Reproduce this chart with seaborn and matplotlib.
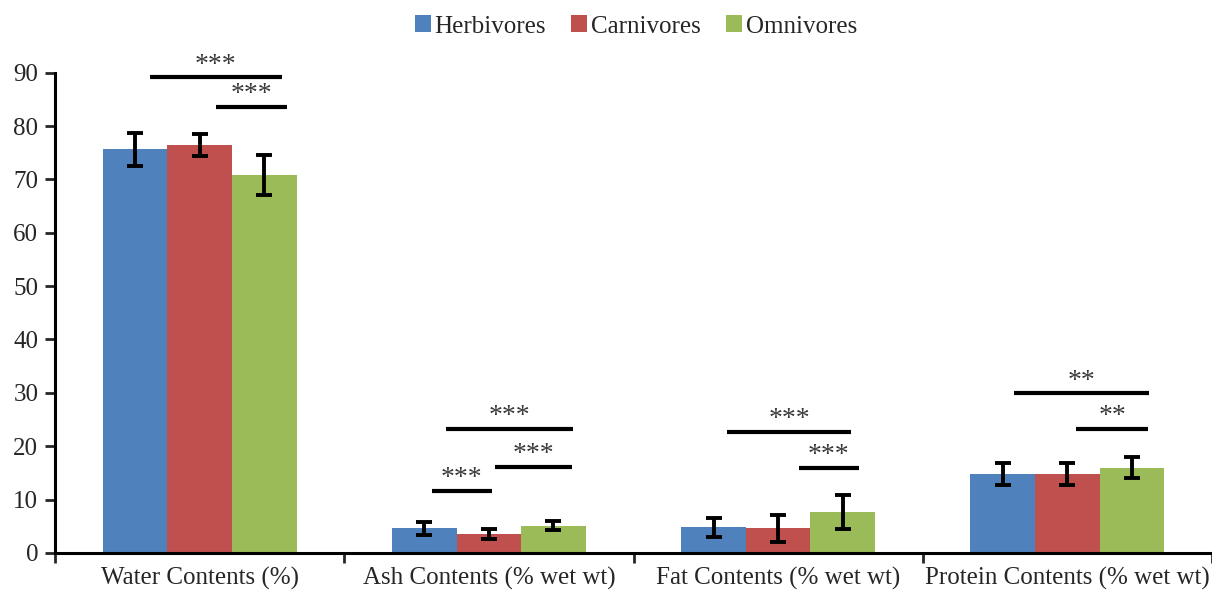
import matplotlib
matplotlib.use("Agg")
import matplotlib.pyplot as plt
import seaborn as sns
import pandas as pd
import numpy as np

categories = ["Water Contents (%)", "Ash Contents (% wet wt)", "Fat Contents (% wet wt)", "Protein Contents (% wet wt)"]
groups = ["Herbivores", "Carnivores", "Omnivores"]
herbivores = [75.6, 4.6, 4.8, 14.8]
carnivores = [76.4, 3.5, 4.6, 14.8]
omnivores = [70.8, 5.1, 7.7, 16.0]
herb_err = [3.0, 1.2, 1.8, 2.0]
carn_err = [2.1, 0.9, 2.5, 2.0]
omni_err = [3.7, 0.8, 3.2, 2.0]
colors = ["#4F81BD", "#C0504D", "#9BBB59"]

# significance brackets: (category index, start offset, end offset, height, label)
sig_cat = [0, 0, 1, 1, 1, 2, 2, 3, 3]
sig_x0 = [-0.172, 0.055, -0.148, 0.02, -0.197, -0.176, 0.072, -0.186, 0.031]
sig_x1 = [0.283, 0.303, 0.29, 0.286, 0.01, 0.252, 0.279, 0.283, 0.28]
sig_y = [89.1, 83.5, 23.2, 16.2, 11.6, 22.6, 15.9, 29.9, 23.2]
sig_lab = ["***", "***", "***", "***", "***", "***", "***", "**", "**"]

sns.set_theme(style="white")
plt.rcParams["font.family"] = ["Liberation Serif", "DejaVu Serif"]

df = pd.DataFrame({
    "category": categories * 3,
    "group": [g for g in groups for _ in categories],
    "value": herbivores + carnivores + omnivores,
    "err": herb_err + carn_err + omni_err,
})

fig = plt.figure(figsize=(12.12, 5.93), dpi=100)
ax = fig.add_axes([0.0454, 0.0675, 0.9546, 0.81])
sns.barplot(data=df, x="category", y="value", hue="group", order=categories,
            hue_order=groups, palette=colors, width=0.67, errorbar=None,
            saturation=1, ax=ax, edgecolor="none", linewidth=0)

errs = [herb_err, carn_err, omni_err]
vals = [herbivores, carnivores, omnivores]
bar_containers = list(ax.containers)
for ci, cont in enumerate(bar_containers):
    xs = [p.get_x() + p.get_width() / 2 for p in cont.patches]
    ax.errorbar(xs, vals[ci], yerr=errs[ci], fmt="none", ecolor="black",
                elinewidth=2.8, capsize=6, capthick=2.8, zorder=5)

for c, a, b, y, lab in zip(sig_cat, sig_x0, sig_x1, sig_y, sig_lab):
    ax.plot([c + a, c + b], [y, y], color="black", lw=3, solid_capstyle="butt",
            clip_on=False, zorder=6)
    ax.text(c + (a + b) / 2, y + 1.1, lab, ha="center", va="baseline",
            fontsize=20, color="#383838", clip_on=False)

ax.set_xlim(-0.5, 3.5)
ax.set_ylim(0, 90)
ax.set_yticks(np.arange(0, 91, 10))
ax.set_xticks([-0.5, 0.5, 1.5, 2.5, 3.5])
ax.set_xticklabels([])
ax.set_xticks([0, 1, 2, 3], minor=True)
ax.set_xticklabels(categories, minor=True)
ax.tick_params(axis="x", which="major", direction="out", length=7, width=2, bottom=True)
ax.tick_params(axis="x", which="minor", length=0, pad=10, labelsize=18)
ax.tick_params(axis="y", direction="out", length=7, width=2, left=True, labelsize=18, pad=5)
ax.set_xlabel("")
ax.set_ylabel("")
for s in ["top", "right"]:
    ax.spines[s].set_visible(False)
for s in ["left", "bottom"]:
    ax.spines[s].set_linewidth(2.2)
    ax.spines[s].set_color("black")

handles, labels = ax.get_legend_handles_labels()
ax.legend(handles, labels, loc="center", bbox_to_anchor=(0.502, 1.096),
          ncol=3, frameon=False, fontsize=18, handlelength=0.65, handleheight=0.65,
          handletextpad=0.15, columnspacing=1.0)

fig.savefig("out.png", dpi=100)
